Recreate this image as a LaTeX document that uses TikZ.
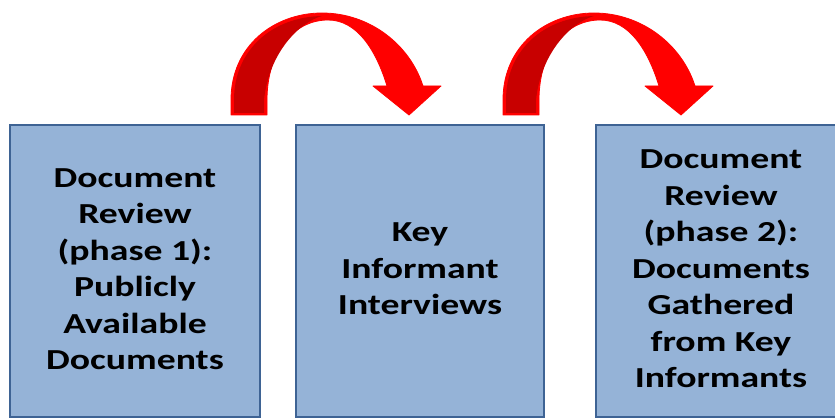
\documentclass[tikz,border=0pt]{standalone}
\usepackage{fontspec}
\setmainfont{Carlito}

\definecolor{boxfill}{HTML}{95B3D7}
\definecolor{boxline}{HTML}{3E6394}
\definecolor{arrowred}{HTML}{FF0000}
\definecolor{arrowdark}{HTML}{C80000}

\tikzstyle{stage}=[draw=boxline,fill=boxfill,line width=2.8pt,minimum width=250pt,minimum height=292pt,inner sep=0pt,font=\fontsize{29}{36.5}\selectfont\bfseries]
\tikzstyle{hoparrow}=[fill=arrowred,draw=arrowred,line width=0.8pt,line join=round]
\tikzstyle{hopshade}=[fill=arrowdark]

% stretched multi-line label
\newcommand{\stagetext}[1]{\raisebox{-2pt}{\scalebox{1.3}[1]{\begin{tabular}{@{}c@{}}#1\end{tabular}}}}

% curved arrow, tail at the left, head pointing down
\newcommand{\hop}{%
  \path[hoparrow] (231,115) -- (231,100)
    .. controls (231,45) and (275,13) .. (322,13)
    .. controls (370,13) and (410,45) .. (423,86)
    -- (441,86) -- (409,115) -- (373,86) -- (387,86)
    .. controls (376,50) and (357,20) .. (328,20)
    .. controls (295,20) and (267,50) .. (267,100)
    -- (267,115) -- cycle;
  \path[hopshade] (234,113) -- (234,100)
    .. controls (234,50) and (272,17) .. (322,16)
    .. controls (300,22) and (269,52) .. (264,100)
    -- (264,113) -- cycle;}

\begin{document}
\begin{tikzpicture}[x=1pt,y=-1pt]

\useasboundingbox (0,0) rectangle (835,419);

\node[stage] (review1) at (135,271) {\stagetext{Document\\Review\\(phase 1):\\Publicly\\Available\\Documents}};
\node[stage,minimum width=248pt] (interviews) at (420,271) {\stagetext{Key\\Informant\\Interviews}};
\node[stage] (review2) at (721,271) {\stagetext{Document\\Review\\(phase 2):\\Documents\\Gathered\\from Key\\Informants}};

\hop
\begin{scope}[xshift=272pt]
\hop
\end{scope}

\end{tikzpicture}
\end{document}
